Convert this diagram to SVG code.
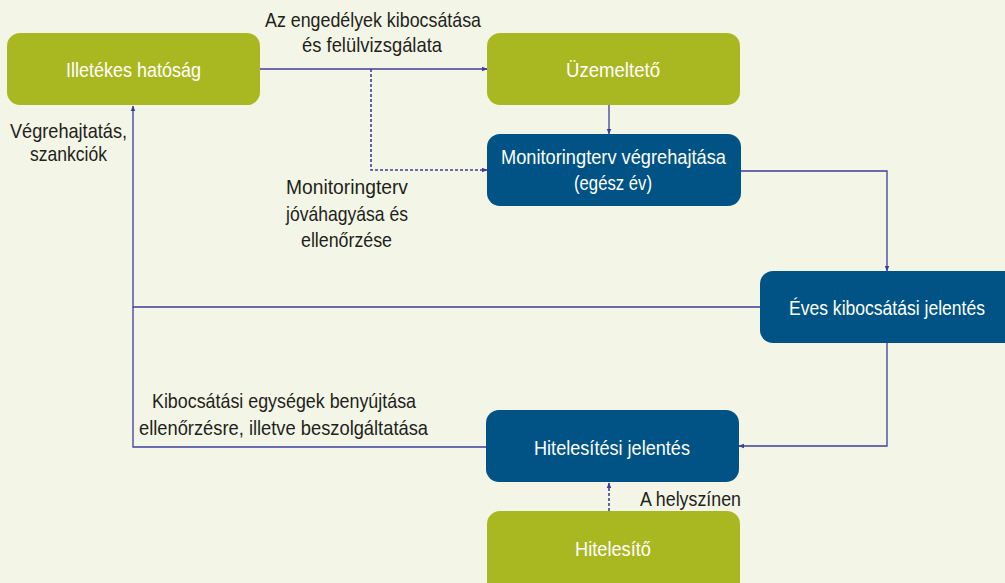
<svg xmlns="http://www.w3.org/2000/svg" width="1005" height="583" viewBox="0 0 1005 583">
<defs>
<style>
.bg{fill:#f3f6e6}
.green{fill:#a9b821}
.blue{fill:#005384}
.wt{fill:#ffffff;font-family:"Liberation Sans",Arial,sans-serif;font-size:21px}
.bt{fill:#231f20;font-family:"Liberation Sans",Arial,sans-serif;font-size:21px}
.ln{fill:none;stroke:#3d3d9e;stroke-width:1.3}
.dash{fill:none;stroke:#3d3d9e;stroke-width:1.6;stroke-dasharray:3,2}
</style>
<marker id="arr" viewBox="0 0 10 10" refX="9" refY="5" markerWidth="6" markerHeight="6" orient="auto" markerUnits="userSpaceOnUse">
<path d="M0,1 L10,5 L0,9 z" fill="#3d3d9e"/>
</marker>
</defs>
<rect class="bg" x="0" y="0" width="1005" height="583"/>
<g id="connectors">
<path class="ln" d="M260,69 H487" marker-end="url(#arr)"/>
<path class="dash" d="M371,69 V170 H487" marker-end="url(#arr)"/>
<path class="ln" d="M609,105 V134" marker-end="url(#arr)"/>
<path class="ln" d="M741,171 H887 V271" marker-end="url(#arr)"/>
<path class="ln" d="M887,343 V446 H739" marker-end="url(#arr)"/>
<path class="ln" d="M760,307 H133 V106" marker-end="url(#arr)"/>
<path class="ln" d="M486,447 H133 V307"/>
<path class="dash" d="M609,511 V483" stroke-width="1.2" marker-end="url(#arr)"/>
</g>
<g id="illetekes">
<rect class="green" x="7" y="33" width="253" height="72" rx="13"/>
<text class="wt" x="133.5" y="77" text-anchor="middle" textLength="135" lengthAdjust="spacingAndGlyphs">Illetékes hatóság</text>
</g>
<g id="uzemelteto">
<rect class="green" x="487" y="33" width="253" height="72" rx="13"/>
<text class="wt" x="613" y="77" text-anchor="middle" textLength="94" lengthAdjust="spacingAndGlyphs">Üzemeltető</text>
</g>
<g id="monitoring">
<rect class="blue" x="487" y="134" width="254" height="72" rx="13"/>
<text class="wt" x="613.5" y="164" text-anchor="middle" textLength="225" lengthAdjust="spacingAndGlyphs">Monitoringterv végrehajtása</text>
<text class="wt" x="613" y="190" text-anchor="middle" textLength="78" lengthAdjust="spacingAndGlyphs">(egész év)</text>
</g>
<g id="eves">
<path class="blue" d="M773,271 H1005 V343 H773 A13,13 0 0 1 760,330 V284 A13,13 0 0 1 773,271 Z"/>
<text class="wt" x="887" y="315" text-anchor="middle" textLength="196" lengthAdjust="spacingAndGlyphs" style="font-size:19.5px">Éves kibocsátási jelentés</text>
</g>
<g id="hitelesitesi">
<rect class="blue" x="486" y="410" width="253" height="72" rx="13"/>
<text class="wt" x="612" y="455" text-anchor="middle" textLength="156" lengthAdjust="spacingAndGlyphs">Hitelesítési jelentés</text>
</g>
<g id="hitelesito">
<path class="green" d="M500,511 H727 A13,13 0 0 1 740,524 V583 H487 V524 A13,13 0 0 1 500,511 Z"/>
<text class="wt" x="613" y="556" text-anchor="middle" textLength="76" lengthAdjust="spacingAndGlyphs">Hitelesítő</text>
</g>
<g id="labels">
<text class="bt" x="265" y="27" textLength="216" lengthAdjust="spacingAndGlyphs">Az engedélyek kibocsátása</text>
<text class="bt" x="302" y="52" textLength="140" lengthAdjust="spacingAndGlyphs">és felülvizsgálata</text>
<text class="bt" x="10" y="138" textLength="117" lengthAdjust="spacingAndGlyphs">Végrehajtatás,</text>
<text class="bt" x="30" y="161" textLength="77" lengthAdjust="spacingAndGlyphs">szankciók</text>
<text class="bt" x="286" y="194" textLength="122" lengthAdjust="spacingAndGlyphs">Monitoringterv</text>
<text class="bt" x="286" y="221" textLength="122" lengthAdjust="spacingAndGlyphs">jóváhagyása és</text>
<text class="bt" x="301" y="247" textLength="91" lengthAdjust="spacingAndGlyphs">ellenőrzése</text>
<text class="bt" x="152" y="408" textLength="264" lengthAdjust="spacingAndGlyphs">Kibocsátási egységek benyújtása</text>
<text class="bt" x="139" y="435" textLength="289" lengthAdjust="spacingAndGlyphs">ellenőrzésre, illetve beszolgáltatása</text>
<text class="bt" x="640" y="506" textLength="101" lengthAdjust="spacingAndGlyphs">A helyszínen</text>
</g>
</svg>
